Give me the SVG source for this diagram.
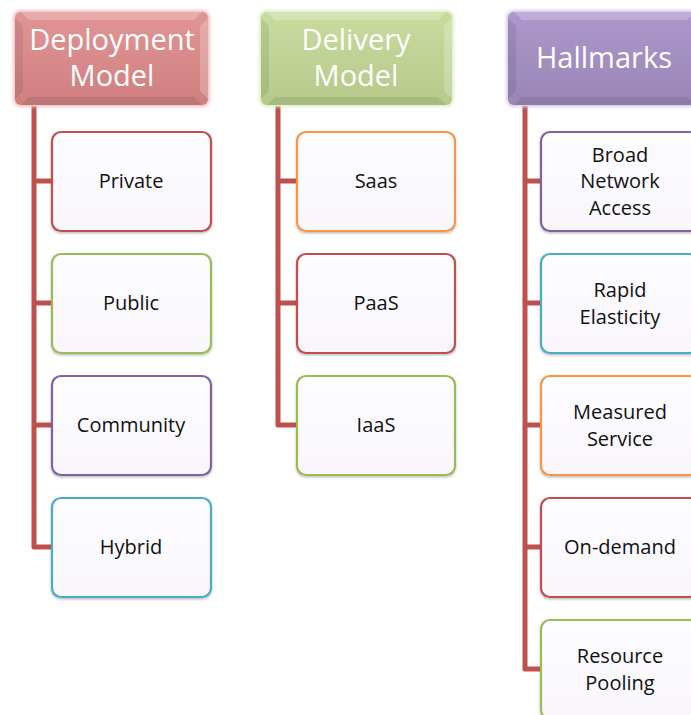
<svg xmlns="http://www.w3.org/2000/svg" width="691" height="715" viewBox="0 0 691 715">
  <defs>
    <style>
      .head-text { font-family: "Open Sans", "Liberation Sans", sans-serif; font-size: 29px; fill: #ffffff; text-anchor: middle; }
      .item-text { font-family: "Open Sans", "Liberation Sans", sans-serif; font-size: 20px; fill: #111111; text-anchor: middle; }
      .item { fill: url(#itemFill); stroke-width: 2.2; filter: url(#shadow); }
      .wire { fill: none; stroke: #c0504d; stroke-width: 5; stroke-linejoin: round; }
      .bevel-light { fill: #ffffff; opacity: 0.22; }
      .bevel-dark { fill: #000000; opacity: 0.08; }
    </style>
    <linearGradient id="itemFill" x1="0" y1="0" x2="0" y2="1">
      <stop offset="0" stop-color="#fdfcff"/>
      <stop offset="1" stop-color="#f9f7fc"/>
    </linearGradient>
    <linearGradient id="redHead" x1="0" y1="0" x2="0" y2="1">
      <stop offset="0" stop-color="#e29596"/>
      <stop offset="1" stop-color="#cf7f80"/>
    </linearGradient>
    <linearGradient id="greenHead" x1="0" y1="0" x2="0" y2="1">
      <stop offset="0" stop-color="#c9dca0"/>
      <stop offset="1" stop-color="#b5c98a"/>
    </linearGradient>
    <linearGradient id="purpleHead" x1="0" y1="0" x2="0" y2="1">
      <stop offset="0" stop-color="#ad97cd"/>
      <stop offset="1" stop-color="#9a86b5"/>
    </linearGradient>
    <filter id="shadow" x="-10%" y="-10%" width="120%" height="125%">
      <feDropShadow dx="0" dy="1.5" stdDeviation="1.2" flood-color="#000000" flood-opacity="0.25"/>
    </filter>
    <filter id="glow" x="-10%" y="-15%" width="120%" height="130%">
      <feGaussianBlur stdDeviation="1.5"/>
    </filter>
  </defs>

  <!-- connectors -->
  <g id="connectors">
    <path class="wire" d="M34,106 V547 H52 M34,181 H52 M34,303 H52 M34,425 H52"/>
    <path class="wire" d="M278,106 V425 H297 M278,181 H297 M278,303 H297"/>
    <path class="wire" d="M525,106 V669 H541 M525,181 H541 M525,303 H541 M525,425 H541 M525,547 H541"/>
  </g>

  <!-- column headers -->
  <g id="deployment-model">
    <rect x="13" y="10" width="197" height="97" rx="8" fill="#f3c4c4" filter="url(#glow)"/>
    <rect x="15" y="12" width="193" height="93" rx="6" fill="url(#redHead)"/>
    <polygon class="bevel-light" points="21,12 202,12 194,20 29,20"/>
    <polygon class="bevel-light" points="208,18 208,99 200,91 200,26"/>
    <polygon class="bevel-dark" points="21,105 202,105 194,97 29,97"/>
    <polygon class="bevel-dark" points="15,18 15,99 23,91 23,26"/>
    <text class="head-text" x="112" y="50">Deployment</text>
    <text class="head-text" x="112" y="86">Model</text>
  </g>

  <g id="delivery-model">
    <rect x="259" y="10" width="195" height="97" rx="8" fill="#e2eecb" filter="url(#glow)"/>
    <rect x="261" y="12" width="191" height="93" rx="6" fill="url(#greenHead)"/>
    <polygon class="bevel-light" points="267,12 446,12 438,20 275,20"/>
    <polygon class="bevel-light" points="452,18 452,99 444,91 444,26"/>
    <polygon class="bevel-dark" points="267,105 446,105 438,97 275,97"/>
    <polygon class="bevel-dark" points="261,18 261,99 269,91 269,26"/>
    <text class="head-text" x="356" y="50">Delivery</text>
    <text class="head-text" x="356" y="86">Model</text>
  </g>

  <g id="hallmarks">
    <rect x="506" y="10" width="197" height="97" rx="8" fill="#d8cce8" filter="url(#glow)"/>
    <rect x="508" y="12" width="193" height="93" rx="6" fill="url(#purpleHead)"/>
    <polygon class="bevel-light" points="514,12 695,12 687,20 522,20"/>
    <polygon class="bevel-dark" points="514,105 695,105 687,97 522,97"/>
    <polygon class="bevel-dark" points="508,18 508,99 516,91 516,26"/>
    <text class="head-text" x="604" y="68">Hallmarks</text>
  </g>

  <!-- deployment model items -->
  <g id="private">
    <rect class="item" x="52" y="132" width="159" height="99" rx="9" stroke="#c0504d"/>
    <text class="item-text" x="131" y="188">Private</text>
  </g>
  <g id="public">
    <rect class="item" x="52" y="254" width="159" height="99" rx="9" stroke="#9bbb59"/>
    <text class="item-text" x="131" y="310">Public</text>
  </g>
  <g id="community">
    <rect class="item" x="52" y="376" width="159" height="99" rx="9" stroke="#8064a2"/>
    <text class="item-text" x="131" y="432">Community</text>
  </g>
  <g id="hybrid">
    <rect class="item" x="52" y="498" width="159" height="99" rx="9" stroke="#4bacc6"/>
    <text class="item-text" x="131" y="554">Hybrid</text>
  </g>

  <!-- delivery model items -->
  <g id="saas">
    <rect class="item" x="297" y="132" width="158" height="99" rx="9" stroke="#f79646"/>
    <text class="item-text" x="376" y="188">Saas</text>
  </g>
  <g id="paas">
    <rect class="item" x="297" y="254" width="158" height="99" rx="9" stroke="#c0504d"/>
    <text class="item-text" x="376" y="310">PaaS</text>
  </g>
  <g id="iaas">
    <rect class="item" x="297" y="376" width="158" height="99" rx="9" stroke="#9bbb59"/>
    <text class="item-text" x="376" y="432">IaaS</text>
  </g>

  <!-- hallmark items -->
  <g id="broad-network-access">
    <rect class="item" x="541" y="132" width="158" height="99" rx="9" stroke="#8064a2"/>
    <text class="item-text" x="620" y="162">Broad</text>
    <text class="item-text" x="620" y="188">Network</text>
    <text class="item-text" x="620" y="215">Access</text>
  </g>
  <g id="rapid-elasticity">
    <rect class="item" x="541" y="254" width="158" height="99" rx="9" stroke="#4bacc6"/>
    <text class="item-text" x="620" y="297">Rapid</text>
    <text class="item-text" x="620" y="324">Elasticity</text>
  </g>
  <g id="measured-service">
    <rect class="item" x="541" y="376" width="158" height="99" rx="9" stroke="#f79646"/>
    <text class="item-text" x="620" y="419">Measured</text>
    <text class="item-text" x="620" y="446">Service</text>
  </g>
  <g id="on-demand">
    <rect class="item" x="541" y="498" width="158" height="99" rx="9" stroke="#c0504d"/>
    <text class="item-text" x="620" y="554">On-demand</text>
  </g>
  <g id="resource-pooling">
    <rect class="item" x="541" y="620" width="158" height="99" rx="9" stroke="#9bbb59"/>
    <text class="item-text" x="620" y="663">Resource</text>
    <text class="item-text" x="620" y="690">Pooling</text>
  </g>
</svg>
